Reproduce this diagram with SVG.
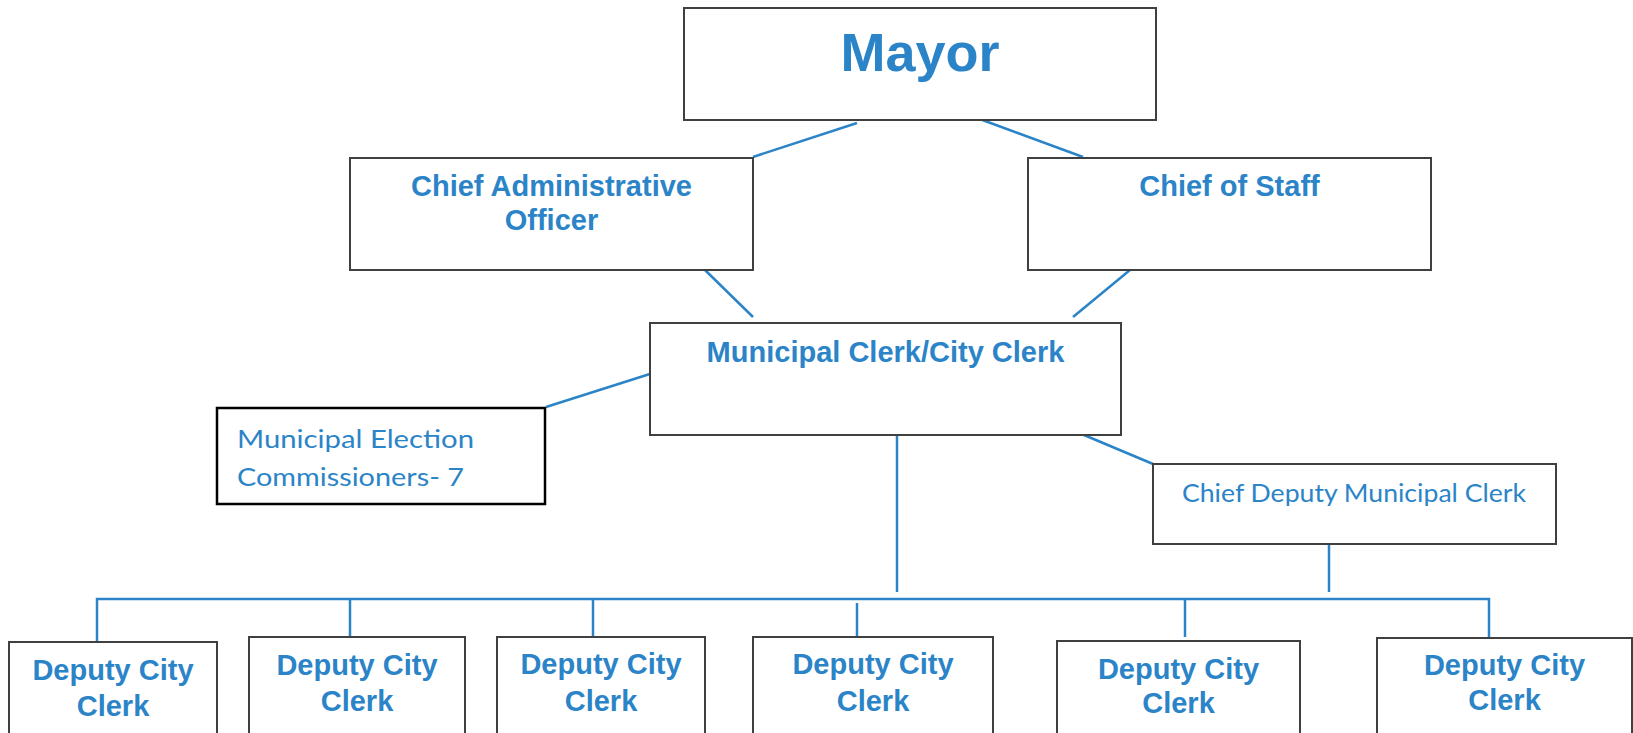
<svg xmlns="http://www.w3.org/2000/svg" width="1633" height="733" viewBox="0 0 1633 733">
  <style>
    .box { fill: #ffffff; stroke: #404040; stroke-width: 2; }
    .box-dark { fill: #ffffff; stroke: #000000; stroke-width: 2.5; }
    .bold { font-family: "Liberation Sans", Arial, sans-serif; font-weight: bold; fill: #2b84c7; text-anchor: middle; }
    .plain { font-family: Lato, "Open Sans", sans-serif; fill: #2b84c7; }
    .link { stroke: #2b84c7; stroke-width: 2.5; fill: none; }
  </style>
  <rect width="1633" height="733" fill="#ffffff"/>

  <!-- connectors -->
  <g id="connectors">
    <line class="link" x1="857" y1="123" x2="753" y2="157"/>
    <line class="link" x1="977" y1="118" x2="1083" y2="157"/>
    <line class="link" x1="705" y1="270" x2="753" y2="317"/>
    <line class="link" x1="1130" y1="270" x2="1073" y2="317"/>
    <line class="link" x1="653" y1="373" x2="546" y2="407"/>
    <line class="link" x1="1084" y1="435" x2="1153" y2="464"/>
    <line class="link" x1="897" y1="435" x2="897" y2="592"/>
    <line class="link" x1="1329" y1="544" x2="1329" y2="592"/>
    <path class="link" d="M97 642 V599 H1489 V642"/>
    <line class="link" x1="350" y1="599" x2="350" y2="637"/>
    <line class="link" x1="593" y1="599" x2="593" y2="637"/>
    <line class="link" x1="857" y1="603" x2="857" y2="643"/>
    <line class="link" x1="1185" y1="599" x2="1185" y2="637"/>
  </g>

  <g id="mayor">
    <rect class="box" x="684" y="8" width="472" height="112"/>
    <text class="bold" x="920" y="71" font-size="54">Mayor</text>
  </g>

  <g id="chief-administrative-officer">
    <rect class="box" x="350" y="158" width="403" height="112"/>
    <text class="bold" x="551.5" y="196" font-size="29">Chief Administrative</text>
    <text class="bold" x="551.5" y="230" font-size="29">Officer</text>
  </g>

  <g id="chief-of-staff">
    <rect class="box" x="1028" y="158" width="403" height="112"/>
    <text class="bold" x="1229.5" y="196" font-size="29">Chief of Staff</text>
  </g>

  <g id="municipal-clerk">
    <rect class="box" x="650" y="323" width="471" height="112"/>
    <text class="bold" x="885.5" y="362" font-size="29">Municipal Clerk/City Clerk</text>
  </g>

  <g id="election-commissioners">
    <rect class="box-dark" x="217" y="408" width="328" height="96"/>
    <text class="plain" x="237" y="448" font-size="25" textLength="237" lengthAdjust="spacingAndGlyphs">Municipal Election</text>
    <text class="plain" x="237" y="486" font-size="25" textLength="227" lengthAdjust="spacingAndGlyphs">Commissioners- 7</text>
  </g>

  <g id="chief-deputy-clerk">
    <rect class="box" x="1153" y="464" width="403" height="80"/>
    <text class="plain" x="1182" y="502" font-size="25" textLength="344" lengthAdjust="spacingAndGlyphs">Chief Deputy Municipal Clerk</text>
  </g>

  <g id="deputy-1">
    <rect class="box" x="9" y="642" width="208" height="100"/>
    <text class="bold" x="113" y="680" font-size="29">Deputy City</text>
    <text class="bold" x="113" y="716" font-size="29">Clerk</text>
  </g>

  <g id="deputy-2">
    <rect class="box" x="249" y="637" width="216" height="105"/>
    <text class="bold" x="357" y="675" font-size="29">Deputy City</text>
    <text class="bold" x="357" y="711" font-size="29">Clerk</text>
  </g>

  <g id="deputy-3">
    <rect class="box" x="497" y="637" width="208" height="105"/>
    <text class="bold" x="601" y="674" font-size="29">Deputy City</text>
    <text class="bold" x="601" y="711" font-size="29">Clerk</text>
  </g>

  <g id="deputy-4">
    <rect class="box" x="753" y="637" width="240" height="105"/>
    <text class="bold" x="873" y="674" font-size="29">Deputy City</text>
    <text class="bold" x="873" y="711" font-size="29">Clerk</text>
  </g>

  <g id="deputy-5">
    <rect class="box" x="1057" y="641" width="243" height="101"/>
    <text class="bold" x="1178.5" y="679" font-size="29">Deputy City</text>
    <text class="bold" x="1178.5" y="713" font-size="29">Clerk</text>
  </g>

  <g id="deputy-6">
    <rect class="box" x="1377" y="638" width="255" height="104"/>
    <text class="bold" x="1504.5" y="675" font-size="29">Deputy City</text>
    <text class="bold" x="1504.5" y="710" font-size="29">Clerk</text>
  </g>
</svg>
